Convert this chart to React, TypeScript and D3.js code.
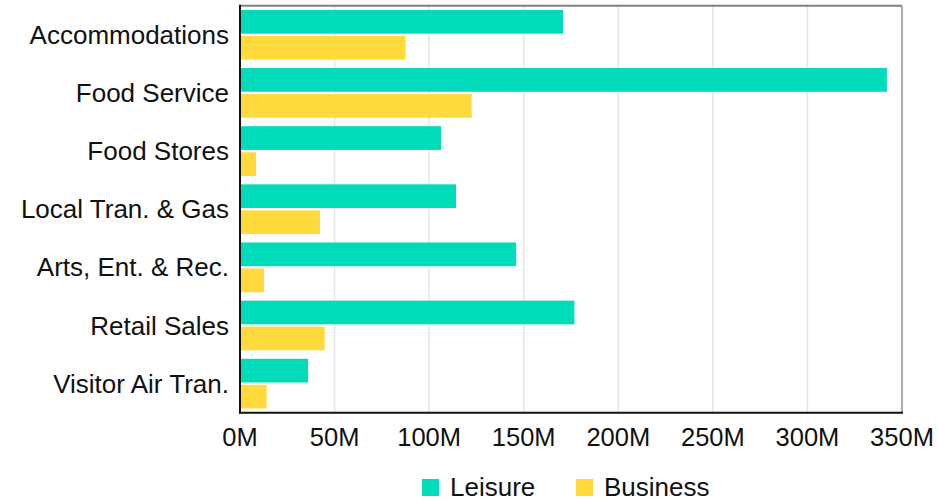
import React from "react";
import * as d3 from "d3";

const categories = [
  "Accommodations",
  "Food Service",
  "Food Stores",
  "Local Tran. & Gas",
  "Arts, Ent. & Rec.",
  "Retail Sales",
  "Visitor Air Tran.",
];
const seriesNames = ["Leisure", "Business"];
const leisure = [170.8, 342, 106.3, 114.2, 146, 176.8, 36];
const business = [87.5, 122.5, 8.5, 42.3, 12.7, 44.8, 14.1];
const tickValues = [0, 50, 100, 150, 200, 250, 300, 350];
const colors = ["#00dbb9", "#ffda3d"];

const W = 938;
const H = 500;
const left = 240;
const right = 902;
const top = 5.7;
const bottom = 412.7;
const FONT = "'Liberation Sans', Arial, sans-serif";

export default function App() {
  const x = d3.scaleLinear().domain([0, 350]).range([left, right]);
  const y0 = d3.scaleBand<string>().domain(categories).range([top, bottom]).padding(0);
  const y1 = d3
    .scaleBand<string>()
    .domain(seriesNames)
    .range([0, y0.bandwidth()])
    .paddingInner(0.088)
    .paddingOuter(0.162);
  const values = [leisure, business];

  return (
    <div style={{ position: "absolute", left: 0, top: 0 }}>
      <svg width={W} height={H} style={{ display: "block", fontFamily: FONT }}>
        <rect x={0} y={0} width={W} height={H} fill="#fff" />
        {tickValues.slice(1, -1).map((t) => (
          <line key={t} x1={x(t)} x2={x(t)} y1={top} y2={bottom} stroke="#e6e6e6" strokeWidth={1.5} />
        ))}
        {categories.map((c, i) =>
          seriesNames.map((s, j) => (
            <rect
              key={c + s}
              x={x(0)}
              y={(y0(c) as number) + (y1(s) as number)}
              width={x(values[j][i]) - x(0)}
              height={y1.bandwidth()}
              fill={colors[j]}
            />
          ))
        )}
        <line x1={left} x2={right} y1={top} y2={top} stroke="#808080" strokeWidth={2} />
        <line x1={right} x2={right} y1={top} y2={bottom} stroke="#aaaaaa" strokeWidth={2} />
        <line x1={left} x2={left} y1={top - 1} y2={bottom + 1} stroke="#111" strokeWidth={2} />
        <line x1={left - 1} x2={right + 1} y1={bottom} y2={bottom} stroke="#111" strokeWidth={2} />
        {tickValues.map((t) => (
          <text key={t} x={x(t)} y={445.7} textAnchor="middle" fontSize={25.5} fill="#111">
            {t + "M"}
          </text>
        ))}
        {categories.map((c) => (
          <text
            key={c}
            x={229}
            y={(y0(c) as number) + y0.bandwidth() / 2}
            dy="0.35em"
            textAnchor="end"
            fontSize={26}
            fill="#111"
          >
            {c}
          </text>
        ))}
        {seriesNames.map((s, j) => {
          const lx = j === 0 ? 422 : 576;
          return (
            <g key={s}>
              <rect x={lx} y={479} width={17} height={17} fill={colors[j]} />
              <text x={lx + 28} y={496} fontSize={26} fill="#111">
                {s}
              </text>
            </g>
          );
        })}
      </svg>
    </div>
  );
}
